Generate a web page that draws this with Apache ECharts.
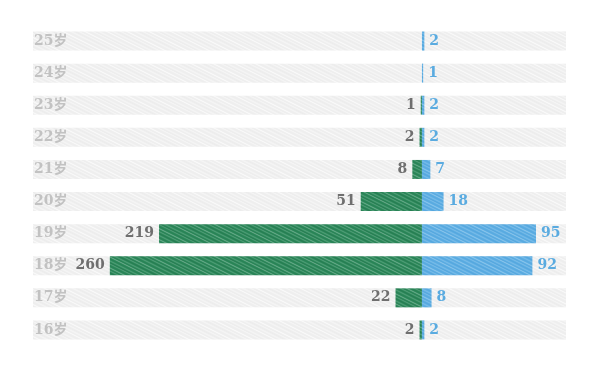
<!DOCTYPE html>
<html>
<head>
<meta charset="utf-8">
<script src="https://cdn.jsdelivr.net/npm/echarts@6/dist/echarts.min.js"></script>
<style>html,body{margin:0;padding:0;background:#fff;}#main{width:600px;height:371px;}</style>
</head>
<body>
<div id="main"></div>
<script>
const categories = ['16岁','17岁','18岁','19岁','20岁','21岁','22岁','23岁','24岁','25岁'];
const leftValues = [2, 22, 260, 219, 51, 8, 2, 1, 0, 0];
const rightValues = [2, 8, 92, 95, 18, 7, 2, 2, 1, 2];
const axisMin = -324;
const axisMax = 120;

function makePattern(base, line1, line2, a1, a2) {
  const w = 64, h = 32;
  const c = document.createElement('canvas');
  c.width = w; c.height = h;
  const ctx = c.getContext('2d');
  ctx.fillStyle = base;
  ctx.fillRect(0, 0, w, h);
  const offsets = [0, 2, 3, 5, 7, 9, 10, 12, 14, 16, 17, 19, 21, 23, 24, 26, 28, 30];
  for (let k = 0; k < offsets.length; k++) {
    const o = offsets[k];
    ctx.strokeStyle = (k % 2 === 0) ? line1 : line2;
    ctx.globalAlpha = (k % 2 === 0) ? a1 : a2;
    ctx.lineWidth = (k % 3 === 0) ? 1.0 : 0.6;
    for (let s = -h; s <= h; s += h) {
      ctx.beginPath();
      ctx.moveTo(0, o + s);
      ctx.lineTo(w, o + s + h);
      ctx.stroke();
    }
  }
  ctx.globalAlpha = 1;
  return c;
}

const greenPat = makePattern('#2e8a5c', '#ffffff', '#1d6b45', 0.3, 0.5);
const bluePat = makePattern('#5fafe4', '#ffffff', '#4499d3', 0.3, 0.45);
const grayPat = makePattern('#f0f0f0', '#ffffff', '#e8e8e8', 0.7, 0.6);

const chart = echarts.init(document.getElementById('main'), null, {renderer: 'canvas'});
const labelFont = {fontFamily: '"DejaVu Serif", "Noto Sans CJK SC", serif', fontWeight: 'bold', fontSize: 14};
chart.setOption({
  animation: false,
  backgroundColor: '#ffffff',
  grid: {left: 33, right: 34, top: 25, bottom: 25, containLabel: false},
  xAxis: {
    type: 'value', min: axisMin, max: axisMax,
    show: false
  },
  yAxis: {
    type: 'category', data: categories,
    axisLine: {show: false}, axisTick: {show: false}, splitLine: {show: false},
    axisLabel: Object.assign({inside: true, margin: 1, color: '#c2c2c2'}, labelFont),
    z: 10
  },
  series: [
    {
      type: 'bar', name: 'left',
      data: leftValues.map(v => -v),
      barWidth: 19, barGap: '-100%',
      showBackground: true,
      backgroundStyle: {color: {image: grayPat, repeat: 'repeat'}},
      itemStyle: {color: {image: greenPat, repeat: 'repeat'}},
      label: Object.assign({
        show: true, position: 'left', distance: 5, color: '#6f6f6f',
        formatter: p => (p.value === 0 ? '' : String(Math.abs(p.value)))
      }, labelFont)
    },
    {
      type: 'bar', name: 'right',
      data: rightValues,
      barWidth: 19, barGap: '-100%',
      itemStyle: {color: {image: bluePat, repeat: 'repeat'}},
      label: Object.assign({
        show: true, position: 'right', distance: 5, color: '#5aabe0',
        formatter: p => (p.value === 0 ? '' : String(p.value))
      }, labelFont)
    }
  ]
});
</script>
</body>
</html>
